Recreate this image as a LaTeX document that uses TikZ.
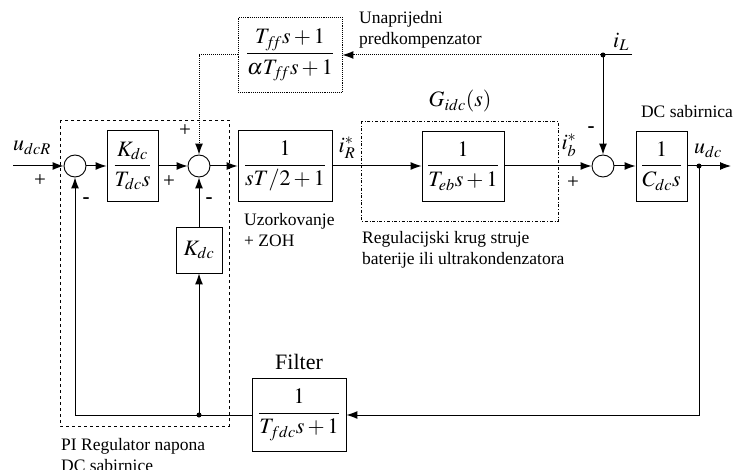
\documentclass[tikz,border=0pt]{standalone}
\usepackage{mathptmx}
\usepackage{fontspec}
\setmainfont{Liberation Serif}
\usepackage{tikz}
\usetikzlibrary{arrows.meta}

\newcommand{\ffidx}{f\mkern-3mu f}

\tikzset{
  blok/.style={draw, line width=0.9pt, inner sep=0pt, font=\fontsize{22}{26}\selectfont},
  zbroj/.style={draw, circle, line width=0.9pt, minimum size=22pt, inner sep=0pt},
  tocka/.style={circle, fill, minimum size=5pt, inner sep=0pt},
  veza/.style={line width=1pt, -{Latex[length=11pt,width=8pt]}},
  opis/.style={font=\fontsize{17.5}{20.5}\selectfont, align=left, inner sep=0pt},
  oznaka/.style={font=\fontsize{22}{24}\selectfont, inner sep=0pt},
  predznak/.style={font=\fontsize{21}{24}\selectfont, inner sep=0pt}
}

\begin{document}
\begin{tikzpicture}[x=1pt, y=-1pt]
        \useasboundingbox (0,0) rectangle (736,470);                  %
        % okviri
        \draw [dashed, line width=0.8pt]   (60,120) rectangle (229,426);  %PI
        \draw [dash dot, line width=0.8pt] (361,121) rectangle (558,221); %Gidc
        % blokovi
        \node [blok, densely dotted, minimum width=104pt, minimum height=75pt] (ff)  at (290,55)    {$\displaystyle\frac{T_{\ffidx}s+1}{\alpha T_{\ffidx}s+1}$};
        \node [blok, minimum width=51pt, minimum height=71pt]  (PI)   at (132.5,166) {$\displaystyle\frac{K_{dc}}{T_{dc}s}$};
        \node [blok, minimum width=46pt, minimum height=46pt]  (Kdc)  at (199,250)   {$K_{dc}$};
        \node [blok, minimum width=94pt, minimum height=71pt]  (zoh)  at (285,166)   {$\displaystyle\frac{1}{sT/2+1}$};
        \node [blok, minimum width=82pt, minimum height=70pt]  (Teb)  at (463,166)   {$\displaystyle\frac{1}{T_{eb}s+1}$};
        \node [blok, minimum width=51pt, minimum height=70pt]  (Cdc)  at (661.5,166) {$\displaystyle\frac{1}{C_{dc}s}$};
        \node [blok, minimum width=94pt, minimum height=73pt]  (filt) at (299,415)   {$\displaystyle\frac{1}{T_{fdc}s+1}$};
        % sumatori i tocke
        \node [zbroj] (s1) at (75,166)  {};                           %
        \node [zbroj] (s2) at (199,166) {};                           %
        \node [zbroj] (s3) at (603,166) {};                           %
        \node [tocka] (izlaz) at (699,166) {};                        %udc
        \node [tocka] (grana) at (199,415) {};                        %
        \node [tocka] (iLt)   at (603,55)  {};                        %iL
        \coordinate (ulaz)  at (13,166);                              %
        \coordinate (kraj)  at (731,166);                             %
        \coordinate (iLk)   at (632,55);                              %
        % veze
        \draw [veza] (ulaz) -- (s1);                                  %
        \draw [veza] (s1) -- (PI);                                    %
        \draw [veza] (PI) -- (s2);                                    %
        \draw [veza] (s2) -- (zoh);                                   %
        \draw [veza] (zoh) -- (Teb);                                  %
        \draw [veza] (Teb) -- (s3);                                   %
        \draw [veza] (s3) -- (Cdc);                                   %
        \draw [veza] (Cdc) -- (kraj);                                 %
        \draw [veza] (izlaz.center) |- (filt);                        %
        \draw [veza] (filt) -| (s1);                                  %
        \draw [veza] (grana.center) -- (Kdc);                         %
        \draw [veza] (Kdc) -- (s2);                                   %
        \draw [veza] (iLk) -- (iLt.center) -- (s3);                   %
        \draw [veza, densely dotted] (iLt.center) -- (ff);            %
        \draw [veza, densely dotted] (ff) -| (s2);                    %
        % predznaci
        \node [predznak] (p1) at (40,181)  {+};                       %
        \node [predznak] (m1) at (86,201)  {\textbf{-}};              %
        \node [predznak] (p2) at (169,182) {+};                       %
        \node [predznak] (p3) at (185,131) {+};                       %
        \node [predznak] (m2) at (209,201) {\textbf{-}};              %
        \node [predznak] (m3) at (591,130) {\textbf{-}};              %
        \node [predznak] (p4) at (573,183) {+};                       %
        % oznake signala
        \node [oznaka] (udcR) at (32,148)  {$u_{dcR}$};               %
        \node [oznaka] (iR)   at (347,148) {$i_R^*$};                 %
        \node [oznaka] (ib)   at (569,145) {$i_b^*$};                 %
        \node [oznaka] (udc)  at (708,151) {$u_{dc}$};                %
        \node [oznaka] (iL)   at (621,42)  {$i_L$};                   %
        \node [oznaka] (Gidc) at (460,101) {$G_{idc}(s)$};            %
        \node [oznaka] (filtL) at (299,362) {Filter};                 %
        % opisi
        \node [opis, anchor=west] (ffL)  at (359,30)  {Unaprijedni\\predkompenzator};
        \node [opis] (dcL)   at (687,112) {DC sabirnica};             %
        \node [opis, anchor=west] (zohL) at (244,230) {Uzorkovanje\\+ ZOH};
        \node [opis, anchor=west] (regL) at (362,250) {Regulacijski krug struje\\baterije ili ultrakondenzatora};
        \node [opis, anchor=west] (piL)  at (61,455)  {PI Regulator napona\\DC sabirnice};
\end{tikzpicture}
\end{document}
